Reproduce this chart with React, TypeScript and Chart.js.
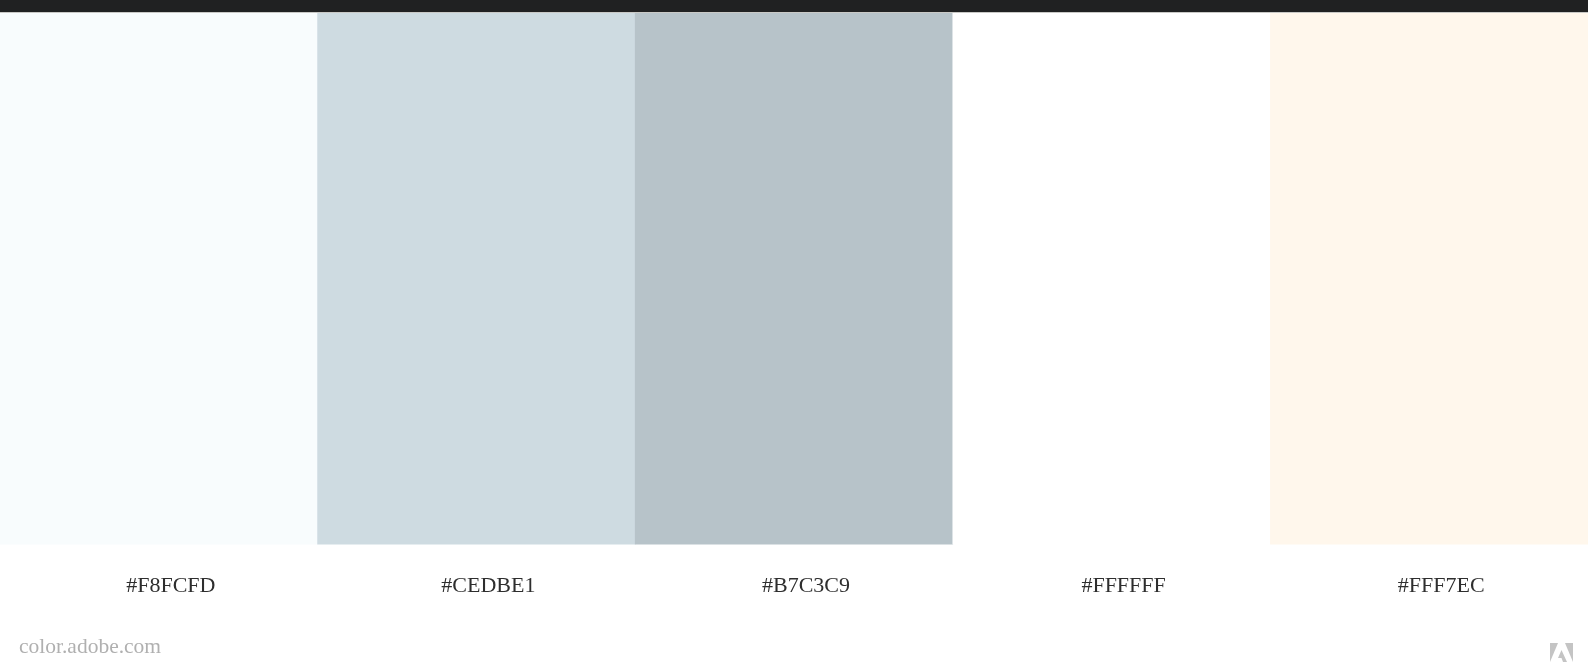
import React, { useEffect, useRef } from "react";
import { Chart, registerables } from "chart.js";

Chart.register(...registerables);

const swatchLabels = ["#F8FCFD", "#CEDBE1", "#B7C3C9", "#FFFFFF", "#FFF7EC"];
const swatchValues = [1, 1, 1, 1, 1];
const swatchColors = ["#F8FCFD", "#CEDBE1", "#B7C3C9", "#FFFFFF", "#FFF7EC"];
const footerText = "color.adobe.com";

const frame = {
  id: "frame",
  beforeDraw(chart: any) {
    const { ctx, width } = chart;
    ctx.save();
    ctx.fillStyle = "#ffffff";
    ctx.fillRect(0, 0, width, chart.height);
    ctx.fillStyle = "#202122";
    ctx.fillRect(0, 0, width, 12);
    ctx.fillStyle = "#c9c9c6";
    ctx.fillRect(0, 12, width, 1);
    ctx.restore();
  },
  afterDraw(chart: any) {
    const { ctx, width } = chart;
    ctx.save();
    ctx.fillStyle = "#b0b0b0";
    ctx.font = "21.5px 'Liberation Serif', serif";
    ctx.textBaseline = "middle";
    ctx.textAlign = "left";
    ctx.fillText(footerText, 19, 647);
    // Adobe mark
    const x0 = width - 38;
    const y0 = 643;
    ctx.fillStyle = "#c4c4c4";
    ctx.beginPath();
    ctx.moveTo(x0, y0);
    ctx.lineTo(x0 + 8, y0);
    ctx.lineTo(x0, y0 + 19);
    ctx.closePath();
    ctx.fill();
    ctx.beginPath();
    ctx.moveTo(x0 + 15, y0);
    ctx.lineTo(x0 + 23, y0);
    ctx.lineTo(x0 + 23, y0 + 19);
    ctx.closePath();
    ctx.fill();
    ctx.beginPath();
    ctx.moveTo(x0 + 11.5, y0 + 7);
    ctx.lineTo(x0 + 17, y0 + 19);
    ctx.lineTo(x0 + 13, y0 + 19);
    ctx.lineTo(x0 + 11.5, y0 + 15);
    ctx.lineTo(x0 + 8, y0 + 15);
    ctx.closePath();
    ctx.fill();
    ctx.restore();
  },
};

export default function App() {
  const ref = useRef<HTMLCanvasElement>(null);
  useEffect(() => {
    document.body.style.margin = "0";
    const chart = new Chart(ref.current!, {
      type: "bar",
      data: {
        labels: swatchLabels,
        datasets: [
          {
            data: swatchValues,
            backgroundColor: swatchColors,
            borderWidth: 0,
            barPercentage: 1,
            categoryPercentage: 1,
          },
        ],
      },
      options: {
        animation: false,
        responsive: true,
        maintainAspectRatio: false,
        layout: { padding: { top: 13, bottom: 51, left: 0, right: 0 } },
        plugins: { legend: { display: false }, tooltip: { enabled: false } },
        scales: {
          x: {
            grid: { display: false },
            border: { display: false },
            ticks: {
              color: "#2e2e2e",
              font: { family: "'Liberation Serif', serif", size: 22 },
              padding: 20,
              labelOffset: 12,
              maxRotation: 0,
            },
          },
          y: { display: false, min: 0, max: 1 },
        },
      },
      plugins: [frame],
    });
    return () => chart.destroy();
  }, []);
  return (
    <div style={{ position: "fixed", left: 0, top: 0, width: "1588px", height: "670px" }}>
      <canvas ref={ref} />
    </div>
  );
}
